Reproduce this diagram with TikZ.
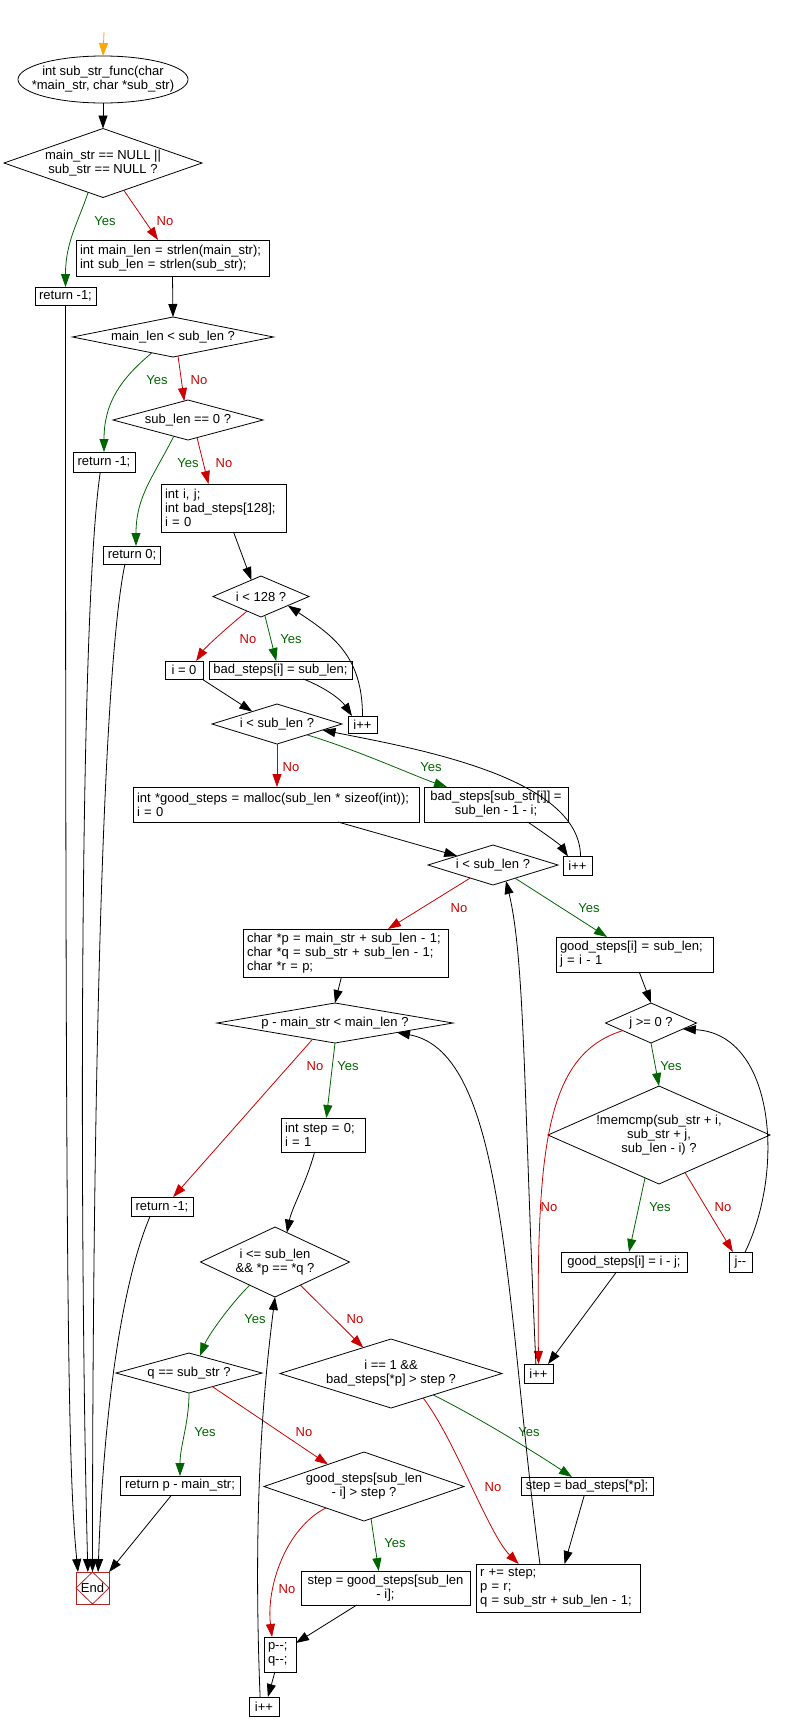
\documentclass[tikz,border=0pt]{standalone}
\usepackage{fontspec}
\setmainfont{Liberation Sans}
\usetikzlibrary{shapes.geometric,arrows.meta,calc}

\definecolor{verde}{RGB}{0,100,0}
\definecolor{rojo}{RGB}{204,0,0}
\definecolor{naranja}{RGB}{255,165,0}
\definecolor{rojofin}{RGB}{178,34,34}

\tikzset{
  stmt/.style={draw, rectangle, inner xsep=4pt, inner ysep=1pt, outer sep=0pt, line width=0.8pt},
  stmtl/.style={stmt, align=left},
  cond/.style={draw, diamond, inner sep=0pt, outer sep=0pt, line width=0.8pt},
  inicio/.style={draw, ellipse, inner sep=0pt, outer sep=0pt, line width=0.8pt},
  fin/.style={draw=rojofin, rectangle, inner sep=0pt, outer sep=0pt, line width=0.8pt,
    minimum width=33pt, minimum height=32pt},
  arr/.style={-{Triangle[length=13pt,width=9pt]}, line width=0.8pt},
  yesarr/.style={arr, verde},
  noarr/.style={arr, rojo},
  inicioarr/.style={arr, naranja},
  yestxt/.style={text=verde},
  notxt/.style={text=rojo}
}

\begin{document}
\begin{tikzpicture}[x=1pt, y=-1pt, font=\fontsize{13}{14}\selectfont]
    \useasboundingbox (0,0) rectangle (785,1732);

    % Inicio y primeras comprobaciones
    \node[inicio, minimum width=170pt, minimum height=47pt,
      label={[align=center]center:{int sub\_str\_func(char\\*main\_str, char *sub\_str)}}] (ell) at (103,79.5) {};
    \node[cond, minimum width=198pt, minimum height=69pt,
      label={[align=center]center:{main\_str == NULL ||\\sub\_str == NULL ?}}] (d1) at (103,163) {};
    \node[stmtl, text width=185pt, minimum height=36pt] (b1) at (172.5,258) {int main\_len = strlen(main\_str);\\int sub\_len = strlen(sub\_str);};
    \node[stmt, minimum width=61pt, minimum height=18pt] (r1) at (65.5,296) {return -1;};
    \node[cond, minimum width=201pt, minimum height=40pt,
      label={center:{main\_len < sub\_len ?}}] (d2) at (173,337) {};
    \node[cond, minimum width=150pt, minimum height=40pt,
      label={center:{sub\_len == 0 ?}}] (d3) at (188,420) {};
    \node[stmt, minimum width=62pt, minimum height=20pt] (r2) at (104,462) {return -1;};
    \node[stmtl, text width=117pt, minimum height=48pt] (b2) at (223.5,508) {int i, j;\\int bad\_steps[128];\\i = 0};
    \node[stmt, minimum width=56pt, minimum height=18pt] (r3) at (132,555) {return 0;};

    % Tabla bad_steps
    \node[cond, minimum width=96pt, minimum height=41pt,
      label={center:{i < 128 ?}}] (d4) at (261,596.5) {};
    \node[stmt, minimum width=38pt, minimum height=18pt] (b3) at (184,670) {i = 0};
    \node[stmt, minimum width=143pt, minimum height=18pt] (b4) at (280.5,670) {bad\_steps[i] = sub\_len;};
    \node[stmt, minimum width=29pt, minimum height=17pt] (inc1) at (362.5,724.5) {i++};
    \node[cond, minimum width=130pt, minimum height=40pt,
      label={center:{i < sub\_len ?}}] (d5) at (277,724) {};
    \node[stmtl, text width=278pt, minimum height=35pt] (b5) at (276,804.5) {int *good\_steps = malloc(sub\_len * sizeof(int));\\i = 0};
    \node[stmt, align=center, minimum width=144pt, minimum height=35pt] (b6) at (496,804.5) {bad\_steps[sub\_str[i]] =\\sub\_len - 1 - i;};
    \node[stmt, minimum width=29pt, minimum height=19pt] (inc2) at (577.5,866) {i++};

    % Tabla good_steps
    \node[cond, minimum width=130pt, minimum height=40pt,
      label={center:{i < sub\_len ?}}] (d6) at (493,865) {};
    \node[stmtl, text width=197pt, minimum height=48pt] (b7) at (345.5,953) {char *p = main\_str + sub\_len - 1;\\char *q = sub\_str + sub\_len - 1;\\char *r = p;};
    \node[stmtl, text width=149pt, minimum height=35pt] (b8) at (634.5,954.5) {good\_steps[i] = sub\_len;\\j = i - 1};
    \node[cond, minimum width=91pt, minimum height=40pt,
      label={center:{j >= 0 ?}}] (d8) at (651,1023) {};
    \node[cond, minimum width=222pt, minimum height=98pt,
      label={[align=center]center:{!memcmp(sub\_str + i,\\sub\_str + j,\\sub\_len - i) ?}}] (d9) at (659,1135) {};
    \node[stmt, minimum width=126pt, minimum height=20pt] (b10) at (624,1262) {good\_steps[i] = i - j;};
    \node[stmt, minimum width=23pt, minimum height=20pt] (b11) at (740.5,1262) {j-{}-};
    \node[stmt, minimum width=29pt, minimum height=19pt] (inc3) at (538.5,1373.5) {i++};

    % Busqueda
    \node[cond, minimum width=236pt, minimum height=40pt,
      label={center:{p - main\_str < main\_len ?}}] (d7) at (335,1023) {};
    \node[stmtl, text width=76pt, minimum height=34pt] (b9) at (323,1135) {int step = 0;\\i = 1};
    \node[stmt, minimum width=62pt, minimum height=19pt] (r4) at (162,1206.5) {return -1;};
    \node[cond, minimum width=149pt, minimum height=70pt,
      label={[align=center]center:{i <= sub\_len\\\&\& *p == *q ?}}] (d10) at (275,1262) {};
    \node[cond, minimum width=146pt, minimum height=40pt,
      label={center:{q == sub\_str ?}}] (d11) at (189,1373) {};
    \node[cond, minimum width=222pt, minimum height=69pt,
      label={[align=center]center:{i == 1 \&\&\\bad\_steps[*p] > step ?}}] (d12) at (391,1373.5) {};
    \node[stmt, minimum width=120pt, minimum height=19pt] (r5) at (180,1485.5) {return p - main\_str;};
    \node[cond, minimum width=200pt, minimum height=69pt,
      label={[align=center]center:{good\_steps[sub\_len\\- i] > step ?}}] (d13) at (364,1486.5) {};
    \node[stmt, minimum width=132pt, minimum height=18pt] (b12) at (587,1486) {step = bad\_steps[*p];};
    \node[stmt, align=center, minimum width=169pt, minimum height=34pt] (b13) at (385.5,1588) {step = good\_steps[sub\_len\\- i];};
    \node[stmtl, text width=156pt, minimum height=48pt] (b14) at (558,1588) {r += step;\\p = r;\\q = sub\_str + sub\_len - 1;};
    \node[stmtl, text width=24pt, minimum height=35pt] (b15) at (280,1654.5) {p-{}-;\\q-{}-;};
    \node[stmt, minimum width=30pt, minimum height=19pt] (inc4) at (264,1706.5) {i++};

    % Fin
    \node[fin] (end) at (92.5,1588) {End};
    \draw[rojofin, line width=0.8pt] (end.north) -- (end.east) -- (end.south) -- (end.west) -- cycle;

    % Flechas
    \coordinate (ini) at (104,32);
    \draw[inicioarr] (ini) -- (ell.north);
    \draw[arr] (ell.south) -- (d1.north);
    \draw[yesarr] ($(d1.south)!0.15!(d1.west)$) .. controls +(-10,30) and +(0,-45) .. (r1.north);
    \draw[noarr] ($(d1.south)!0.21!(d1.east)$) -- ($(b1.north west)!0.425!(b1.north east)$);
    \draw[arr] (b1.south) -- (d2.north);
    \draw[arr] (r1.south) .. controls +(0,1000) and +(-10,-100) .. ($(end.north west)+(2,0)$);
    \draw[yesarr] ($(d2.south)!0.21!(d2.west)$) .. controls +(-30,25) and +(0,-50) .. (r2.north);
    \draw[noarr] ($(d2.south)!0.05!(d2.east)$) -- ($(d3.north)!0.05!(d3.west)$);
    \draw[arr] ($(r2.south west)!0.44!(r2.south east)$) .. controls +(-22,150) and +(-8,-300) .. ($(end.north west)!0.36!(end.north east)$);
    \draw[yesarr] ($(d3.south)!0.19!(d3.west)$) .. controls +(-20,40) and +(0,-50) .. ($(r3.north)+(4,0)$);
    \draw[noarr] ($(d3.south)!0.12!(d3.east)$) -- ($(b2.north west)!0.38!(b2.north east)$);
    \draw[arr] ($(r3.south west)!0.375!(r3.south east)$) .. controls +(-25,120) and +(0,-400) .. (end.north);
    \draw[arr] ($(b2.south west)!0.58!(b2.south east)$) -- ($(d4.north)!0.2!(d4.west)$);
    \draw[noarr] ($(d4.south)!0.29!(d4.west)$) .. controls +(-30,25) and +(8,-12) .. ($(b3.north west)!0.82!(b3.north east)$);
    \draw[yesarr] ($(d4.south)!0.08!(d4.east)$) -- ($(b4.north west)!0.47!(b4.north east)$);
    \draw[arr] ($(b4.south west)!0.66!(b4.south east)$) .. controls +(25,10) and +(-10,-15) .. ($(inc1.north west)+(4,0)$);
    \draw[arr] (inc1.north) .. controls +(0,-60) and +(45,30) .. ($(d4.south)!0.56!(d4.east)$);
    \draw[arr] ($(b3.south west)!0.97!(b3.south east)$) -- ($(d5.north)!0.38!(d5.west)$);
    \draw[noarr] (d5.south) -- (d5.south |- b5.north);
    \draw[yesarr] ($(d5.south)!0.46!(d5.east)$) .. controls +(50,15) and +(-30,-10) .. ($(b6.north west)!0.16!(b6.north east)$);
    \draw[arr] ($(b6.south west)!0.72!(b6.south east)$) .. controls +(15,10) and +(-8,-12) .. ($(inc2.north west)+(5,0)$);
    \draw[arr] ($(inc2.north)+(3,0)$) .. controls +(0,-80) and +(90,18) .. ($(d5.south)!0.7!(d5.east)$);
    \draw[arr] ($(b5.south west)!0.717!(b5.south east)$) -- ($(d6.north)!0.55!(d6.west)$);
    \draw[noarr] ($(d6.south)!0.35!(d6.west)$) -- ($(b7.north west)!0.707!(b7.north east)$);
    \draw[yesarr] ($(d6.south)!0.34!(d6.east)$) -- ($(b8.north west)!0.325!(b8.north east)$);
    \draw[arr] ($(b7.south west)!0.48!(b7.south east)$) -- (d7.north);
    \draw[arr] ($(b8.south west)!0.53!(b8.south east)$) -- (d8.north);
    \draw[noarr] ($(d7.south)!0.19!(d7.west)$) -- ($(r4.north west)!0.68!(r4.north east)$);
    \draw[yesarr] (d7.south) -- ($(b9.north west)!0.54!(b9.north east)$);
    \draw[arr] ($(r4.south west)!0.31!(r4.south east)$) .. controls +(-30,70) and +(5,-150) .. ($(end.north west)!0.67!(end.north east)$);
    \draw[arr] ($(b9.south west)!0.4!(b9.south east)$) .. controls +(-8,30) and +(5,-25) .. ($(d10.north)!0.16!(d10.east)$);
    \draw[yesarr] ($(d10.south)!0.34!(d10.west)$) .. controls +(-20,20) and +(8,-20) .. ($(d11.north)!0.15!(d11.east)$);
    \draw[noarr] ($(d10.south)!0.34!(d10.east)$) -- ($(d12.north)!0.25!(d12.west)$);
    \draw[yesarr] (d11.south) .. controls +(0,30) and +(0,-30) .. (r5.north);
    \draw[noarr] ($(d11.south)!0.32!(d11.east)$) -- ($(d13.north)!0.36!(d13.west)$);
    \draw[yesarr] ($(d12.south)!0.38!(d12.east)$) .. controls +(50,25) and +(-30,-20) .. ($(b12.north west)!0.386!(b12.north east)$);
    \draw[noarr] ($(d12.south)!0.29!(d12.east)$) .. controls +(32,42) and +(-30,-30) .. ($(b14.north west)!0.26!(b14.north east)$);
    \draw[arr] ($(b12.south west)!0.48!(b12.south east)$) -- ($(b14.north west)!0.54!(b14.north east)$);
    \draw[arr] ($(b14.north west)!0.39!(b14.north east)$) .. controls +(-35,-263) and +(110,20) .. ($(d7.south)!0.525!(d7.east)$);
    \draw[noarr] ($(d13.south)!0.38!(d13.west)$) .. controls +(-40,20) and +(-6,-50) .. ($(b15.north west)!0.25!(b15.north east)$);
    \draw[yesarr] ($(d13.south)!0.07!(d13.east)$) -- ($(b13.north west)!0.46!(b13.north east)$);
    \draw[arr] ($(b13.south west)!0.33!(b13.south east)$) -- ($(b15.north east)!0.17!(b15.south east)$);
    \draw[arr] ($(b15.south west)!0.34!(b15.south east)$) -- ($(inc4.north west)!0.63!(inc4.north east)$);
    \draw[arr] ($(inc4.north west)!0.37!(inc4.north east)$) .. controls +(-8,-200) and +(-10,80) .. (d10.south);
    \draw[yesarr] (d8.south) -- (d9.north);
    \draw[noarr] ($(d8.south)!0.62!(d8.west)$) .. controls +(-78,24) and +(-2,-214) .. (inc3.north);
    \draw[yesarr] ($(d9.south)!0.126!(d9.west)$) -- ($(b10.north west)!0.54!(b10.north east)$);
    \draw[noarr] ($(d9.south)!0.234!(d9.east)$) -- ($(b11.north west)!0.17!(b11.north east)$);
    \draw[arr] ($(b11.north west)!0.7!(b11.north east)$) .. controls +(40,-82) and +(92,5) .. ($(d8.south)!0.7!(d8.east)$);
    \draw[arr] ($(b10.south west)!0.44!(b10.south east)$) -- ($(inc3.north west)!0.83!(inc3.north east)$);
    \draw[arr] ($(inc3.north west)!0.41!(inc3.north east)$) .. controls +(-12,-264) and +(19,78) .. ($(d6.south)!0.2!(d6.east)$);
    \draw[arr] ($(r5.south west)!0.43!(r5.south east)$) -- (end.north east);

    % Etiquetas Yes / No
    \foreach \x/\y [count=\k] in {105/221, 157/380, 188/463, 291/639, 431/767, 589/908, 348/1066,
        671/1066, 660/1207, 255/1319, 205/1432, 529/1432, 395/1543} {
        \node[yestxt] (si\k) at (\x,\y) {Yes};
    }
    \foreach \x/\y [count=\k] in {165/221, 199/380, 224/463, 248/639, 291/767, 459/908, 315/1066,
        549/1207, 723/1207, 355/1319, 304/1432, 493/1487, 287/1589} {
        \node[notxt] (no\k) at (\x,\y) {No};
    }
\end{tikzpicture}
\end{document}
